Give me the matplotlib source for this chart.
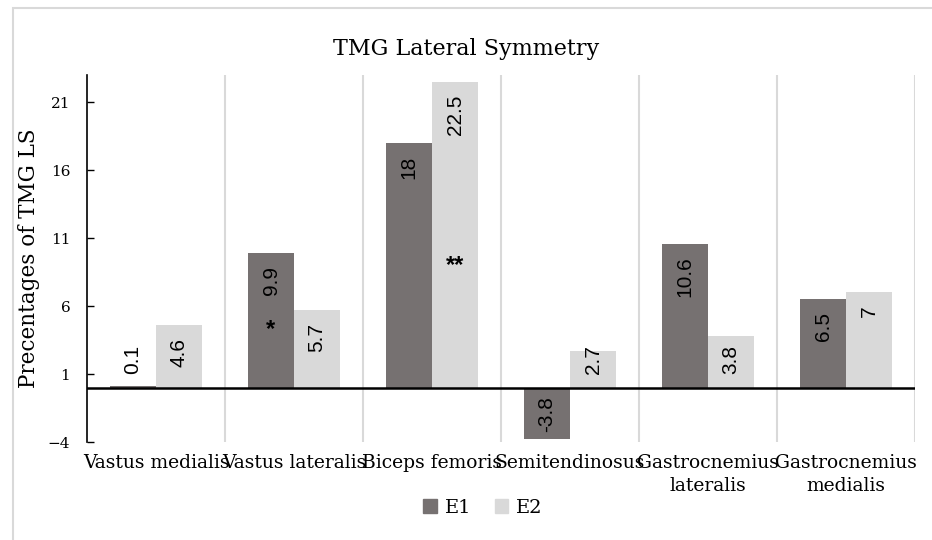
import matplotlib
matplotlib.use("Agg")
import matplotlib.pyplot as plt
from matplotlib.patches import Rectangle, Patch
import numpy as np

categories = ["Vastus medialis", "Vastus lateralis", "Biceps femoris", "Semitendinosus",
              "Gastrocnemius\nlateralis", "Gastrocnemius\nmedialis"]
e1_values = [0.1, 9.9, 18, -3.8, 10.6, 6.5]
e2_values = [4.6, 5.7, 22.5, 2.7, 3.8, 7]
e1_labels = ["0.1", "9.9", "18", "-3.8", "10.6", "6.5"]
e2_labels = ["4.6", "5.7", "22.5", "2.7", "3.8", "7"]
series_names = ["E1", "E2"]
yticks = [-4, 1, 6, 11, 16, 21]
ytick_labels = ["\u22124", "1", "6", "11", "16", "21"]

C1 = "#767171"
C2 = "#D9D9D9"
SERIF = "DejaVu Serif"
SANS = "Liberation Sans"

fig = plt.figure(figsize=(9.32, 5.4), dpi=100)
ax = fig.add_axes([87/932, 1-442/540, (915-87)/932, (442-75)/540])

x = np.arange(len(categories))
w = 1/3
b1 = ax.bar(x - w/2, e1_values, w, color=C1, zorder=2)
b2 = ax.bar(x + w/2, e2_values, w, color=C2, zorder=2)

ax.set_xlim(-0.5, len(categories) - 0.5)
ax.set_ylim(-4, 23)
ax.set_yticks(yticks)
ax.set_yticklabels(ytick_labels, fontfamily=SERIF, fontsize=11)
ax.set_xticks(x)
ax.set_xticklabels(categories, fontfamily=SERIF, fontsize=13.5, linespacing=1.35)
ax.tick_params(axis='x', length=0, pad=9)
ax.tick_params(axis='y', direction='in', length=5, width=1, pad=12)

for s in ["top", "right", "bottom"]:
    ax.spines[s].set_visible(False)
ax.spines["left"].set_color("black")
ax.spines["left"].set_linewidth(1.2)

for b in np.arange(0.5, len(categories), 1.0):
    ax.axvline(b, color="#D9D9D9", lw=1.5, zorder=1)
ax.axhline(0, color="black", lw=1.8, zorder=3)

ax.set_ylabel("Precentages of TMG LS", fontfamily=SERIF, fontsize=15.5, labelpad=6)
fig.text(0.5, 1 - 49/540, "TMG Lateral Symmetry", ha="center", va="center",
         fontfamily=SERIF, fontsize=16)

# data labels
fig.canvas.draw()
r = fig.canvas.get_renderer()
base_px = ax.transData.transform((0, 0))[1]
for bars, labels in ((b1, e1_labels), (b2, e2_labels)):
    for bar, lab in zip(bars, labels):
        xc = bar.get_x() + bar.get_width()/2
        v = bar.get_height() if bar.get_y() >= 0 else bar.get_y()
        kw = dict(rotation=90, ha="center", fontfamily=SANS, fontsize=15,
                  textcoords="offset pixels", zorder=4)
        if v >= 0:
            t = ax.annotate(lab, xy=(xc, v), xytext=(0, -13), va="top", **kw)
            bb = t.get_window_extent(r)
            if bb.y0 < base_px + 14:
                t.remove()
                ax.annotate(lab, xy=(xc, 0), xytext=(0, 14), va="bottom", **kw)
        else:
            ax.annotate(lab, xy=(xc, v), xytext=(0, 7), va="bottom", **kw)

# significance markers
ax.text(1 - w/2, 4.3, "*", ha="center", va="center", fontsize=17, fontfamily=SANS,
        fontweight="bold", zorder=4)
ax.text(2 + w/2, 9.0, "**", ha="center", va="center", fontsize=17, fontfamily=SANS,
        fontweight="bold", zorder=4)

handles = [Patch(color=C1), Patch(color=C2)]
leg = fig.legend(handles, series_names, loc="center", bbox_to_anchor=(483/932, 1 - 508/540),
                 ncol=2, frameon=False, prop={"family": SERIF, "size": 14},
                 handlelength=0.7, handleheight=0.7, handletextpad=0.4, columnspacing=1.2)

fig.add_artist(Rectangle((13/932, -0.1), 1.2, 1 - 8/540 + 0.1, transform=fig.transFigure,
                         fill=False, edgecolor="#D9D9D9", lw=1.5))

fig.savefig("out.png", dpi=100)
